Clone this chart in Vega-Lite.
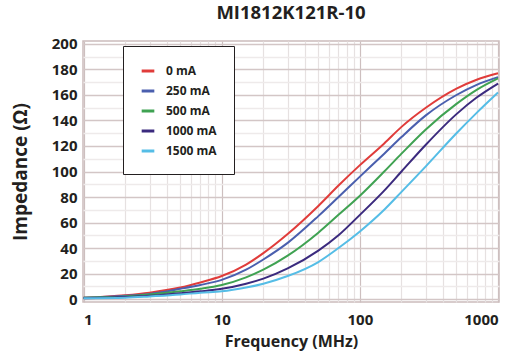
{
  "$schema": "https://vega.github.io/schema/vega-lite/v6.json",
  "width": 416,
  "height": 261,
  "autosize": {"type": "none"},
  "padding": {"left": 83, "top": 41, "right": 8, "bottom": 58},
  "background": "white",
  "title": {
    "text": "MI1812K121R-10",
    "font": "Open Sans",
    "fontSize": 18.5,
    "fontWeight": "bold",
    "color": "#231f20",
    "offset": 14
  },
  "config": {
    "view": {"stroke": "#cbbcbc", "strokeWidth": 1.5},
    "font": "Open Sans",
    "axis": {
      "labelFont": "Open Sans",
      "labelFontWeight": "bold",
      "labelColor": "#231f20",
      "titleFont": "Open Sans",
      "titleFontWeight": "bold",
      "titleColor": "#231f20",
      "ticks": false,
      "domain": false
    }
  },
  "data": {
    "values": [
      {"f": 1, "z": 1, "s": "0 mA"}, {"f": 2, "z": 3, "s": "0 mA"}, {"f": 3, "z": 5, "s": "0 mA"}, {"f": 5, "z": 9, "s": "0 mA"}, {"f": 7, "z": 13, "s": "0 mA"}, {"f": 10, "z": 18, "s": "0 mA"}, {"f": 15, "z": 27, "s": "0 mA"}, {"f": 20, "z": 36, "s": "0 mA"}, {"f": 30, "z": 51, "s": "0 mA"}, {"f": 50, "z": 73, "s": "0 mA"}, {"f": 70, "z": 89, "s": "0 mA"}, {"f": 100, "z": 105, "s": "0 mA"}, {"f": 150, "z": 122, "s": "0 mA"}, {"f": 200, "z": 135, "s": "0 mA"}, {"f": 300, "z": 150, "s": "0 mA"}, {"f": 500, "z": 165, "s": "0 mA"}, {"f": 700, "z": 172, "s": "0 mA"}, {"f": 1000, "z": 177, "s": "0 mA"},
      {"f": 1, "z": 1, "s": "250 mA"}, {"f": 2, "z": 2.5, "s": "250 mA"}, {"f": 3, "z": 4, "s": "250 mA"}, {"f": 5, "z": 8, "s": "250 mA"}, {"f": 7, "z": 11, "s": "250 mA"}, {"f": 10, "z": 15, "s": "250 mA"}, {"f": 15, "z": 23, "s": "250 mA"}, {"f": 20, "z": 31, "s": "250 mA"}, {"f": 30, "z": 44, "s": "250 mA"}, {"f": 50, "z": 65, "s": "250 mA"}, {"f": 70, "z": 80, "s": "250 mA"}, {"f": 100, "z": 96, "s": "250 mA"}, {"f": 150, "z": 114, "s": "250 mA"}, {"f": 200, "z": 127, "s": "250 mA"}, {"f": 300, "z": 144, "s": "250 mA"}, {"f": 500, "z": 160, "s": "250 mA"}, {"f": 700, "z": 168, "s": "250 mA"}, {"f": 1000, "z": 174, "s": "250 mA"},
      {"f": 1, "z": 1, "s": "500 mA"}, {"f": 2, "z": 2, "s": "500 mA"}, {"f": 3, "z": 3.5, "s": "500 mA"}, {"f": 5, "z": 6, "s": "500 mA"}, {"f": 7, "z": 8, "s": "500 mA"}, {"f": 10, "z": 11, "s": "500 mA"}, {"f": 15, "z": 17, "s": "500 mA"}, {"f": 20, "z": 23, "s": "500 mA"}, {"f": 30, "z": 34, "s": "500 mA"}, {"f": 50, "z": 52, "s": "500 mA"}, {"f": 70, "z": 66, "s": "500 mA"}, {"f": 100, "z": 81, "s": "500 mA"}, {"f": 150, "z": 100, "s": "500 mA"}, {"f": 200, "z": 114, "s": "500 mA"}, {"f": 300, "z": 133, "s": "500 mA"}, {"f": 500, "z": 153, "s": "500 mA"}, {"f": 700, "z": 164, "s": "500 mA"}, {"f": 1000, "z": 173, "s": "500 mA"},
      {"f": 1, "z": 0.5, "s": "1000 mA"}, {"f": 2, "z": 1.5, "s": "1000 mA"}, {"f": 3, "z": 2.5, "s": "1000 mA"}, {"f": 5, "z": 4.5, "s": "1000 mA"}, {"f": 7, "z": 6, "s": "1000 mA"}, {"f": 10, "z": 8, "s": "1000 mA"}, {"f": 15, "z": 12, "s": "1000 mA"}, {"f": 20, "z": 16, "s": "1000 mA"}, {"f": 30, "z": 24, "s": "1000 mA"}, {"f": 50, "z": 38, "s": "1000 mA"}, {"f": 70, "z": 50, "s": "1000 mA"}, {"f": 100, "z": 66, "s": "1000 mA"}, {"f": 150, "z": 85, "s": "1000 mA"}, {"f": 200, "z": 100, "s": "1000 mA"}, {"f": 300, "z": 121, "s": "1000 mA"}, {"f": 500, "z": 145, "s": "1000 mA"}, {"f": 700, "z": 158, "s": "1000 mA"}, {"f": 1000, "z": 169, "s": "1000 mA"},
      {"f": 1, "z": 0.5, "s": "1500 mA"}, {"f": 2, "z": 1, "s": "1500 mA"}, {"f": 3, "z": 2, "s": "1500 mA"}, {"f": 5, "z": 3.5, "s": "1500 mA"}, {"f": 7, "z": 5, "s": "1500 mA"}, {"f": 10, "z": 6, "s": "1500 mA"}, {"f": 15, "z": 9, "s": "1500 mA"}, {"f": 20, "z": 12, "s": "1500 mA"}, {"f": 30, "z": 18, "s": "1500 mA"}, {"f": 50, "z": 29, "s": "1500 mA"}, {"f": 70, "z": 40, "s": "1500 mA"}, {"f": 100, "z": 53, "s": "1500 mA"}, {"f": 150, "z": 70, "s": "1500 mA"}, {"f": 200, "z": 84, "s": "1500 mA"}, {"f": 300, "z": 104, "s": "1500 mA"}, {"f": 500, "z": 130, "s": "1500 mA"}, {"f": 700, "z": 146, "s": "1500 mA"}, {"f": 1000, "z": 162, "s": "1500 mA"}
    ]
  },
  "mark": {"type": "line", "interpolate": "monotone", "strokeWidth": 2, "clip": true},
  "encoding": {
    "x": {
      "field": "f",
      "type": "quantitative",
      "scale": {"type": "log", "domain": [0.99, 1016], "nice": false},
      "axis": {
        "title": "Frequency (MHz)",
        "titleFontSize": 16,
        "titlePadding": 6,
        "labelFontSize": 15,
        "labelPadding": 10,
        "labelFlush": true,
        "labelOverlap": false,
        "values": [1, 2, 3, 4, 5, 6, 7, 8, 9, 10, 20, 30, 40, 50, 60, 70, 80, 90, 100, 200, 300, 400, 500, 600, 700, 800, 900, 1000],
        "labelExpr": "indexof([1,10,100,1000], datum.value) >= 0 ? format(datum.value, 'd') : ''",
        "gridColor": {"condition": {"test": "indexof([1,10,100,1000], datum.value) >= 0", "value": "#cdbfbf"}, "value": "#e6e1e1"},
        "gridWidth": 1.2
      }
    },
    "y": {
      "field": "z",
      "type": "quantitative",
      "scale": {"domain": [-2.35, 202.35], "nice": false, "zero": false},
      "axis": {
        "title": "Impedance (Ω)",
        "titleFontSize": 19,
        "titlePadding": 21,
        "labelFontSize": 15,
        "labelPadding": 6,
        "labelOverlap": false,
        "values": [0, 10, 20, 30, 40, 50, 60, 70, 80, 90, 100, 110, 120, 130, 140, 150, 160, 170, 180, 190, 200],
        "labelExpr": "datum.value % 20 == 0 ? datum.label : ''",
        "gridColor": {"condition": {"test": "datum.value % 20 == 0", "value": "#d3c6c6"}, "value": "#eeeaea"},
        "gridWidth": 1.3
      }
    },
    "color": {
      "field": "s",
      "type": "nominal",
      "scale": {
        "domain": ["0 mA", "250 mA", "500 mA", "1000 mA", "1500 mA"],
        "range": ["#e03c3a", "#4a5fae", "#3fa252", "#3b2a7e", "#55bde6"]
      },
      "legend": {
        "title": null,
        "orient": "none",
        "legendX": 40,
        "legendY": 5,
        "strokeColor": "#231f20",
        "fillColor": "white",
        "padding": 17,
        "symbolType": "stroke",
        "symbolStrokeWidth": 3,
        "symbolSize": 160,
        "labelFont": "Open Sans",
        "labelFontWeight": "bold",
        "labelFontSize": 12,
        "labelColor": "#231f20",
        "labelOffset": 10,
        "rowPadding": 6
      }
    }
  }
}
